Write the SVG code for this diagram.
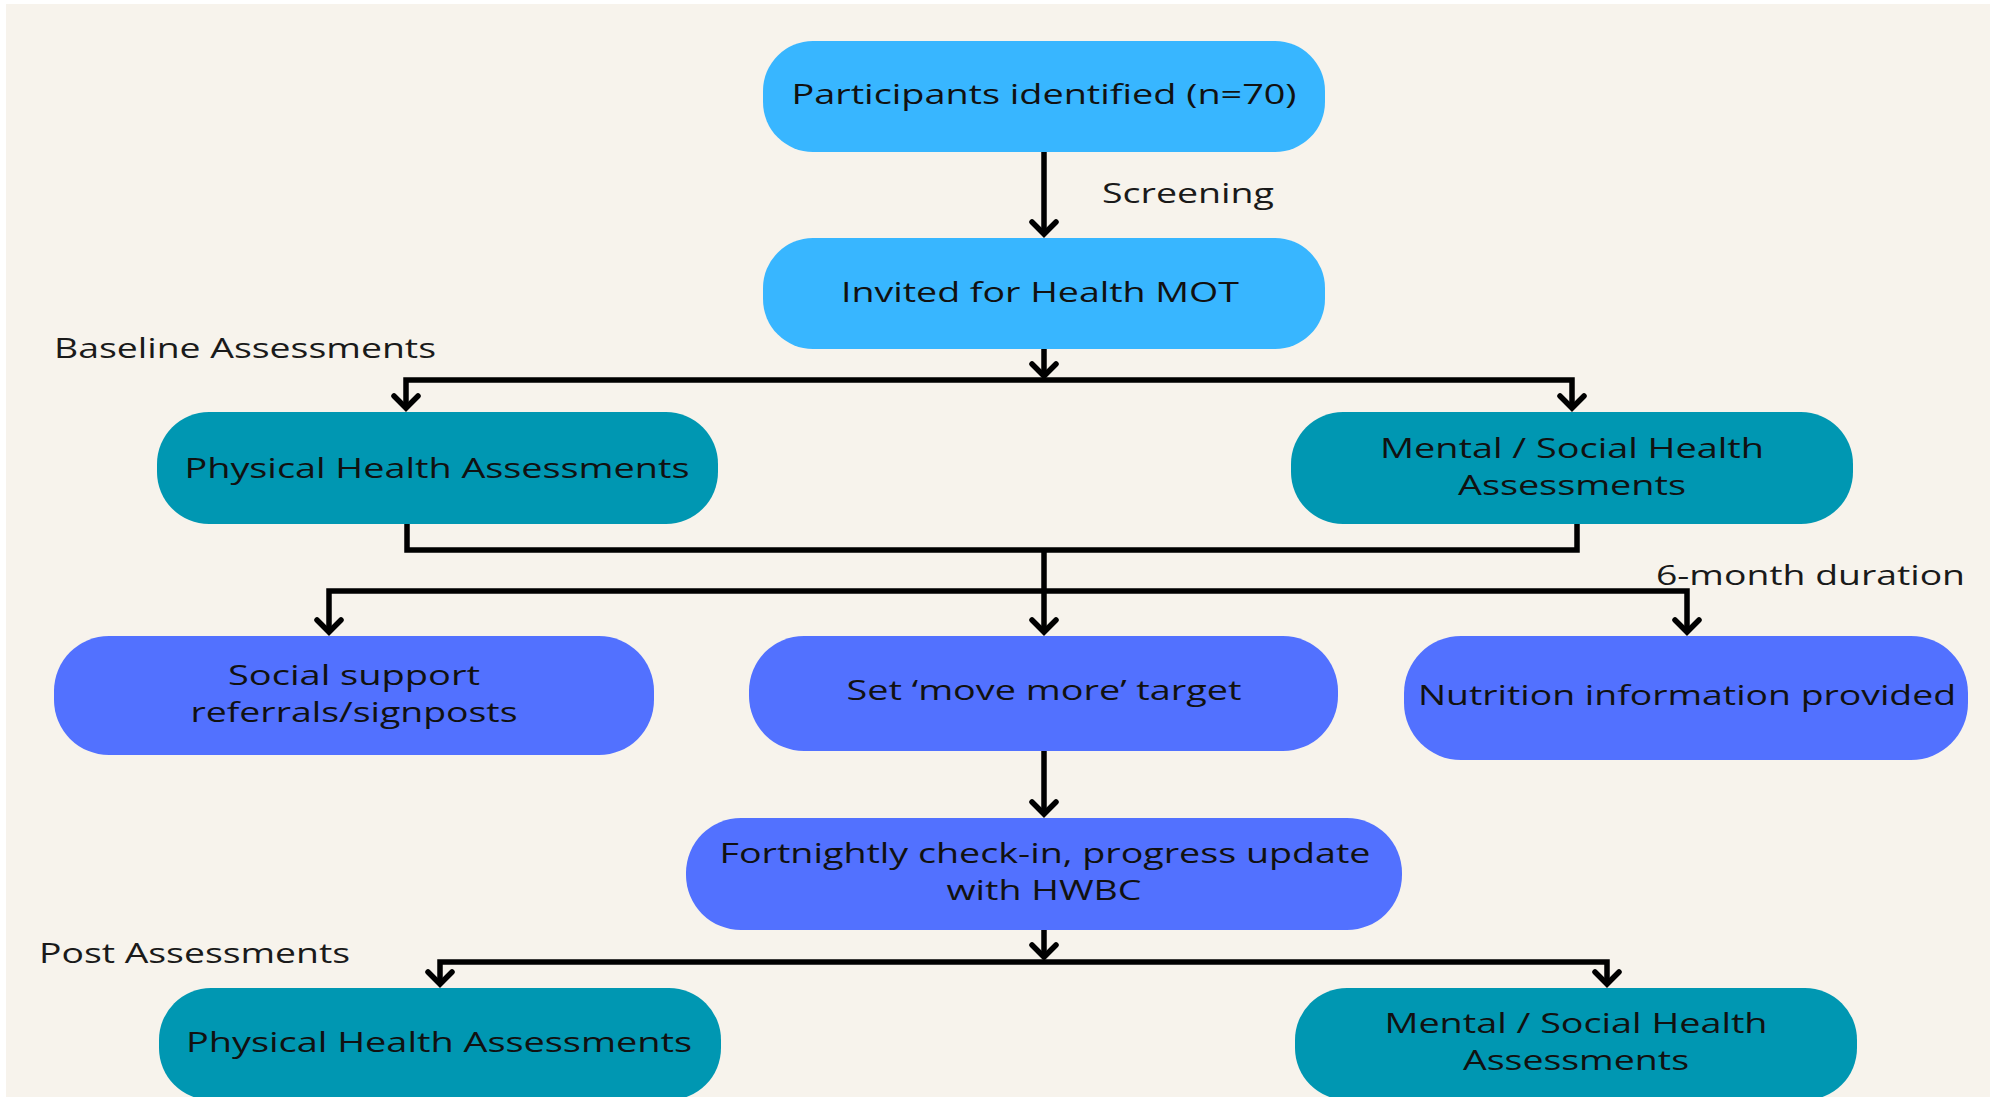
<svg xmlns="http://www.w3.org/2000/svg" width="1990" height="1097" viewBox="0 0 1990 1097">
<defs>
<style>
.bg{fill:#F7F3EC}
.n1{fill:#38B6FF}
.n2{fill:#0097B2}
.n3{fill:#5271FF}
.t{font-family:"Open Sans","Noto Sans","Liberation Sans",sans-serif;font-size:28px;fill:#111;text-anchor:middle}
.l{font-family:"Open Sans","Noto Sans","Liberation Sans",sans-serif;font-size:27px;fill:#1a1a1a}
.c{fill:none;stroke:#000;stroke-width:5.5;stroke-linejoin:miter}
</style>
<marker id="ah" markerUnits="userSpaceOnUse" viewBox="-16 -16 32 32" markerWidth="32" markerHeight="32" refX="0" refY="0" orient="auto" overflow="visible">
<path d="M-12,-12 L0,0 L-12,12" fill="none" stroke="#000" stroke-width="5.5" stroke-linecap="round" stroke-linejoin="miter"/>
</marker>
</defs>
<rect x="0" y="0" width="1990" height="1097" fill="#ffffff"/>
<rect class="bg" x="6" y="4" width="1984" height="1093"/>

<g id="connectors">
<path class="c" d="M1044,152 V234" marker-end="url(#ah)"/>
<path class="c" d="M1044,349 V376" marker-end="url(#ah)"/>
<path class="c" d="M1044,380 H406 V408" marker-end="url(#ah)"/>
<path class="c" d="M1044,380 H1572 V408" marker-end="url(#ah)"/>
<path class="c" d="M407,524 V550 H1577 V524"/>
<path class="c" d="M1044,550 V632" marker-end="url(#ah)"/>
<path class="c" d="M1044,591 H329 V632" marker-end="url(#ah)"/>
<path class="c" d="M1044,591 H1687 V632" marker-end="url(#ah)"/>
<path class="c" d="M1044,751 V814" marker-end="url(#ah)"/>
<path class="c" d="M1044,930 V957" marker-end="url(#ah)"/>
<path class="c" d="M1044,962 H440 V984" marker-end="url(#ah)"/>
<path class="c" d="M1044,962 H1607 V984" marker-end="url(#ah)"/>
</g>

<g id="labels">
<text class="l" x="1102" y="203" textLength="172" lengthAdjust="spacingAndGlyphs">Screening</text>
<text class="l" x="54" y="358" textLength="382" lengthAdjust="spacingAndGlyphs">Baseline Assessments</text>
<text class="l" x="1656" y="585" textLength="309" lengthAdjust="spacingAndGlyphs">6-month duration</text>
<text class="l" x="39" y="963" textLength="311" lengthAdjust="spacingAndGlyphs">Post Assessments</text>
</g>

<g id="participants">
<rect class="n1" x="763" y="41" width="562" height="111" rx="50"/>
<text class="t" x="1044" y="104" textLength="505" lengthAdjust="spacingAndGlyphs">Participants identified (n=70)</text>
</g>
<g id="invited">
<rect class="n1" x="763" y="238" width="562" height="111" rx="50"/>
<text class="t" x="1040" y="302" textLength="398" lengthAdjust="spacingAndGlyphs">Invited for Health MOT</text>
</g>
<g id="physical-baseline">
<rect class="n2" x="157" y="412" width="561" height="112" rx="52"/>
<text class="t" x="437" y="478" textLength="505" lengthAdjust="spacingAndGlyphs">Physical Health Assessments</text>
</g>
<g id="mental-baseline">
<rect class="n2" x="1291" y="412" width="562" height="112" rx="52"/>
<text class="t" x="1572" y="458" textLength="384" lengthAdjust="spacingAndGlyphs">Mental / Social Health</text>
<text class="t" x="1572" y="495" textLength="228" lengthAdjust="spacingAndGlyphs">Assessments</text>
</g>
<g id="social-support">
<rect class="n3" x="54" y="636" width="600" height="119" rx="55"/>
<text class="t" x="354" y="685" textLength="252" lengthAdjust="spacingAndGlyphs">Social support</text>
<text class="t" x="354" y="722" textLength="327" lengthAdjust="spacingAndGlyphs">referrals/signposts</text>
</g>
<g id="move-more">
<rect class="n3" x="749" y="636" width="589" height="115" rx="55"/>
<text class="t" x="1044" y="700" textLength="395" lengthAdjust="spacingAndGlyphs">Set ‘move more’ target</text>
</g>
<g id="nutrition">
<rect class="n3" x="1404" y="636" width="564" height="124" rx="57"/>
<text class="t" x="1687" y="705" textLength="538" lengthAdjust="spacingAndGlyphs">Nutrition information provided</text>
</g>
<g id="fortnightly">
<rect class="n3" x="686" y="818" width="716" height="112" rx="55"/>
<text class="t" x="1045" y="863" textLength="651" lengthAdjust="spacingAndGlyphs">Fortnightly check-in, progress update</text>
<text class="t" x="1044" y="900" textLength="195" lengthAdjust="spacingAndGlyphs">with HWBC</text>
</g>
<g id="physical-post">
<rect class="n2" x="159" y="988" width="562" height="112" rx="52"/>
<text class="t" x="439" y="1052" textLength="506" lengthAdjust="spacingAndGlyphs">Physical Health Assessments</text>
</g>
<g id="mental-post">
<rect class="n2" x="1295" y="988" width="562" height="112" rx="52"/>
<text class="t" x="1576" y="1033" textLength="383" lengthAdjust="spacingAndGlyphs">Mental / Social Health</text>
<text class="t" x="1576" y="1070" textLength="226" lengthAdjust="spacingAndGlyphs">Assessments</text>
</g>
</svg>
